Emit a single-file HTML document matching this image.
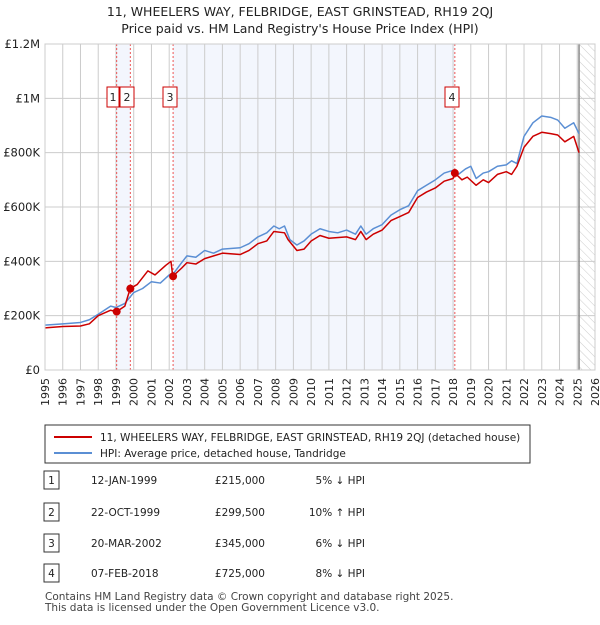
<!DOCTYPE html>
<html><head><meta charset="utf-8"><style>
body{margin:0;background:#fff;font-family:"Liberation Sans","DejaVu Sans",sans-serif;}
svg text{font-family:"DejaVu Sans","Liberation Sans",sans-serif;}
</style></head><body>
<svg width="600" height="620" viewBox="0 0 600 620">
<defs><pattern id="hatch" width="6" height="6" patternUnits="userSpaceOnUse" patternTransform="rotate(-45)"><line x1="0" y1="0" x2="0" y2="6" stroke="#ccc" stroke-width="1"/></pattern></defs>
<text x="300" y="16" text-anchor="middle" font-size="12.5" fill="#222">11, WHEELERS WAY, FELBRIDGE, EAST GRINSTEAD, RH19 2QJ</text>
<text x="300" y="33" text-anchor="middle" font-size="12.5" fill="#222">Price paid vs. HM Land Registry's House Price Index (HPI)</text>
<g id="plot"></g>
<g>
<rect x="45" y="425" width="485" height="38" fill="#fff" stroke="#333"/>
<line x1="54" y1="437" x2="92" y2="437" stroke="#cc0000" stroke-width="2"/>
<text x="100" y="441" font-size="10.5" fill="#222">11, WHEELERS WAY, FELBRIDGE, EAST GRINSTEAD, RH19 2QJ (detached house)</text>
<line x1="54" y1="453" x2="92" y2="453" stroke="#5b8fd4" stroke-width="2"/>
<text x="100" y="457" font-size="10.5" fill="#222">HPI: Average price, detached house, Tandridge</text>
</g>
<g id="table" font-size="10.5" fill="#222"></g>
<text x="45" y="600" font-size="10.5" fill="#444">Contains HM Land Registry data © Crown copyright and database right 2025.</text>
<text x="45" y="611" font-size="10.5" fill="#444">This data is licensed under the Open Government Licence v3.0.</text>
</svg>
<script>
const years=[1995,1996,1997,1998,1999,2000,2001,2002,2003,2004,2005,2006,2007,2008,2009,2010,2011,2012,2013,2014,2015,2016,2017,2018,2019,2020,2021,2022,2023,2024,2025,2026];
const yTicks=[0,200000,400000,600000,800000,1000000,1200000];
const yLabels=["£0","£200K","£400K","£600K","£800K","£1M","£1.2M"];
const hpiT=[1995,1996,1997,1997.5,1998,1998.7,1999,1999.5,2000,2000.5,2001,2001.5,2002,2002.3,2002.7,2003,2003.5,2004,2004.5,2005,2006,2006.5,2007,2007.5,2007.9,2008.2,2008.5,2008.8,2009.2,2009.6,2010,2010.5,2011,2011.5,2012,2012.5,2012.8,2013.1,2013.5,2014,2014.5,2015,2015.5,2016,2016.5,2017,2017.5,2018,2018.3,2018.7,2019,2019.3,2019.7,2020,2020.5,2021,2021.3,2021.6,2022,2022.5,2023,2023.5,2023.9,2024.3,2024.8,2025.1];
const hpiV=[165,170,175,185,205,235,230,245,285,300,325,320,350,360,395,420,415,440,430,445,450,465,490,505,530,520,530,480,460,475,500,520,510,505,515,500,530,500,520,535,570,590,605,660,680,700,725,735,720,740,750,705,725,730,750,755,770,760,860,910,935,930,920,890,910,870];
const ppT=[1995,1996,1997,1997.5,1998,1998.7,1999.04,1999.5,1999.8,2000.2,2000.8,2001.2,2001.8,2002.1,2002.2,2002.7,2003,2003.5,2004,2005,2006,2006.5,2007,2007.5,2007.9,2008.5,2008.7,2009.2,2009.6,2010,2010.5,2011,2012,2012.5,2012.8,2013.1,2013.5,2014,2014.5,2015,2015.5,2016,2016.5,2017,2017.5,2018,2018.1,2018.5,2018.8,2019.3,2019.7,2020,2020.5,2021,2021.3,2021.6,2022,2022.5,2023,2023.5,2023.9,2024.3,2024.8,2025.1];
const ppV=[155,160,162,170,200,220,215,235,299.5,315,365,350,385,400,345,375,395,390,410,430,425,440,465,475,510,505,480,440,445,475,495,485,490,480,510,480,500,515,550,565,580,635,655,670,695,705,725,700,710,680,700,690,720,730,720,750,820,860,875,870,865,840,860,800];
const saleNum=["1","2","3","4"];
const saleT=[1999.04,1999.81,2002.22,2018.1];
const saleV=[215000,299500,345000,725000];
const saleDate=["12-JAN-1999","22-OCT-1999","20-MAR-2002","07-FEB-2018"];
const salePrice=["£215,000","£299,500","£345,000","£725,000"];
const saleRel=["5% ↓ HPI","10% ↑ HPI","6% ↓ HPI","8% ↓ HPI"];
const NS="http://www.w3.org/2000/svg";
const X0=45,X1=595,Y0=370,Y1=44;
const xs=t=>X0+(t-1995)/(2026-1995)*(X1-X0);
const ys=v=>Y0-v/1200000*(Y0-Y1);
function mk(p,tag,a){const e=document.createElementNS(NS,tag);for(const k in a)e.setAttribute(k,a[k]);p.appendChild(e);return e;}
const g=document.getElementById('plot');
let r=mk(g,'rect',{x:xs(saleT[0]),y:Y1,width:xs(saleT[1])-xs(saleT[0]),height:Y0-Y1,fill:'#f3f6fd'});

r=mk(g,'rect',{x:xs(saleT[2]),y:Y1,width:xs(saleT[3])-xs(saleT[2]),height:Y0-Y1,fill:'#f3f6fd'});

r=mk(g,'rect',{x:xs(2025.1),y:Y1,width:X1-xs(2025.1),height:Y0-Y1,fill:'url(#hatch)'});

years.forEach(y=>{const l=mk(g,'line',{x1:xs(y),x2:xs(y),y1:Y1,y2:Y0,stroke:'#ccc'});
const t=mk(g,'text',{x:0,y:0,'font-size':11,fill:'#222','text-anchor':'end',transform:`translate(${xs(y)+4},${Y0+8}) rotate(-90)`});t.textContent=y;});
yTicks.forEach((v,i)=>{const l=mk(g,'line',{x1:X0,x2:X1,y1:ys(v),y2:ys(v),stroke:'#ccc'});
const t=mk(g,'text',{x:X0-5,y:ys(v)+4,'font-size':11.5,fill:'#222','text-anchor':'end'});t.textContent=yLabels[i];});
let l=mk(g,'line',{x1:xs(2025.1),x2:xs(2025.1),y1:Y1,y2:Y0,stroke:'#888','stroke-width':1.5});
saleT.forEach((t,i)=>{const d=mk(g,'line',{x1:xs(t),x2:xs(t),y1:Y1,y2:Y0,stroke:'#e55','stroke-dasharray':'2,2'});});
const pl=(T,V,c,n)=>{const p=mk(g,'polyline',{points:T.map((t,i)=>xs(t)+','+ys(V[i]*1000)).join(' '),fill:'none',stroke:c,'stroke-width':1.5,'stroke-linejoin':'round'});};
pl(hpiT,hpiV,'#5b8fd4','hpi-line');pl(ppT,ppV,'#cc0000','price-paid-line');
saleT.forEach((t,i)=>{const c=mk(g,'circle',{cx:xs(t),cy:ys(saleV[i]),r:4,fill:'#cc0000'});
const b=mk(g,'g',{});
const w=i==0?12:14;
const bx=Math.round(xs(t))-10;
mk(b,'rect',{x:bx,y:87,width:w,height:20,fill:'#fff',stroke:'#cc0000'});
const tx=mk(b,'text',{x:bx+w/2,y:101,'font-size':11,'text-anchor':'middle',fill:'#222'});tx.textContent=saleNum[i];});
mk(g,'rect',{x:X0,y:Y1,width:X1-X0,height:Y0-Y1,fill:'none',stroke:'#ccc'});
const tb=document.getElementById('table');
const rowY=[482,514,545,575];
saleNum.forEach((n,i)=>{const row=mk(tb,'g',{});
mk(row,'rect',{x:44,y:rowY[i]-11,width:15,height:18,fill:'#fff',stroke:'#333'});
let t=mk(row,'text',{x:51.5,y:rowY[i]+2,'text-anchor':'middle'});t.textContent=n;
t=mk(row,'text',{x:91,y:rowY[i]+2});t.textContent=saleDate[i];
t=mk(row,'text',{x:265,y:rowY[i]+2,'text-anchor':'end'});t.textContent=salePrice[i];
t=mk(row,'text',{x:365,y:rowY[i]+2,'text-anchor':'end'});t.textContent=saleRel[i];});
</script>
</body></html>
